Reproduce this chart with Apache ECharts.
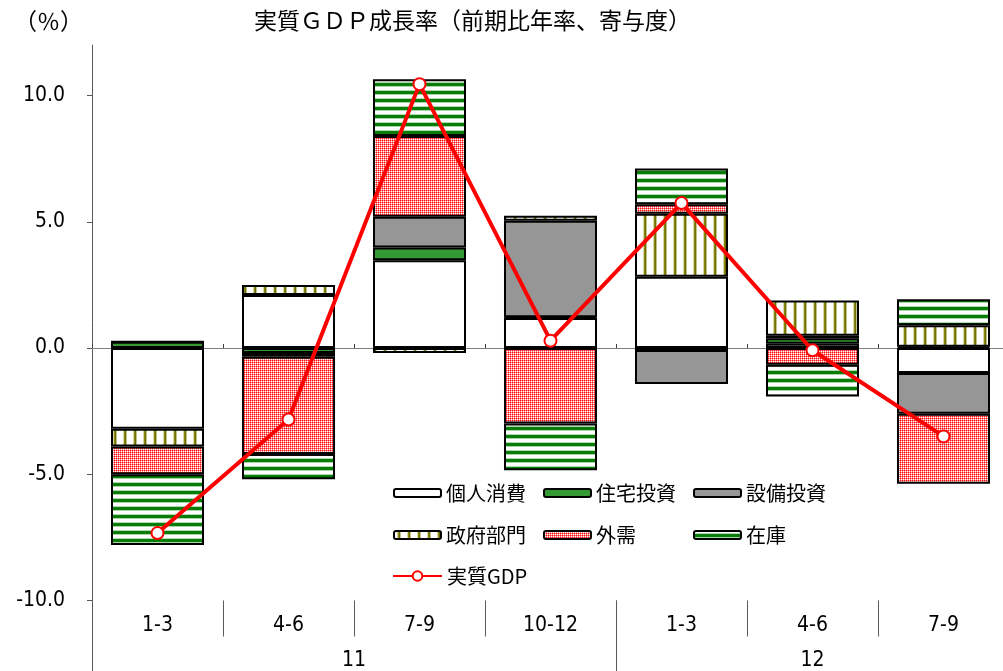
<!DOCTYPE html>
<html><head><meta charset="utf-8">
<script src="https://cdn.jsdelivr.net/npm/echarts@6/dist/echarts.min.js"></script>
<style>html,body{margin:0;padding:0;background:#fff}#c{width:1003px;height:671px}</style>
</head><body><div id="c"></div>
<script>
// ---- data ----
const quarters = ['1-3','4-6','7-9','10-12','1-3','4-6','7-9'];
const years = ['11','12'];
const quartersPerYear = [4,3];
const yTicks = [-10,-5,0,5,10];
const kojin   = [-3.20, 2.10, 3.48, 1.19, 2.82, 0.17, -0.99];
const jutaku  = [ 0.25,-0.20, 0.50, 0.03,-0.08, 0.22,  0.05];
const setsubi = [ 0.00,-0.15, 1.22, 3.82,-1.35, 0.10, -1.61];
const seifu   = [-0.70, 0.40,-0.20, 0.20, 2.50, 1.39,  0.85];
const gaiju   = [-1.10,-3.85, 3.20,-2.99, 0.37,-0.66, -2.78];
const zaiko   = [-2.80,-1.00, 2.24,-1.85, 1.42,-1.26,  1.03];
const gdp     = [-7.33,-2.83,10.45, 0.29, 5.74,-0.09, -3.50];
const names = ['個人消費','住宅投資','設備投資','政府部門','外需','在庫','実質GDP'];

// ---- patterns ----
function tile(w,h,fn){const c=document.createElement('canvas');c.width=w;c.height=h;const g=c.getContext('2d');
  for(let x=0;x<w;x++)for(let y=0;y<h;y++){g.fillStyle=fn(x,y);g.fillRect(x,y,1,1);}return c;}
const stripeCols=['#ffffff','#ffffff','#ffffff','#d6d6a6','#8a8a10','#6e6e00','#c4c48a','#ffffff','#ffffff','#ffffff'];
const seifuPat={image:tile(10,4,(x,y)=>stripeCols[x]),repeat:'repeat'};
const gaijuPat={image:tile(2,2,(x,y)=>(x===0&&y===0)?'#ff1010':(x===1&&y===1)?'#ffffff':'#ff8080'),repeat:'repeat'};
const zaikoRows=['#ffffff','#ffffff','#b0d8b0','#0a800a','#007a00','#0a800a','#a8d4a8','#ffffff'];
const zaikoPat={image:tile(4,8,(x,y)=>zaikoRows[y]),repeat:'repeat'};
const colors=['#ffffff','#339933','#969696',seifuPat,gaijuPat,zaikoPat];
const barData=[kojin,jutaku,setsubi,seifu,gaiju,zaiko];

// level-2 axis slots (half-quarter resolution)
const yearSlots=[];
(function(){let total=quarters.length*2+1;for(let i=0;i<total;i++)yearSlots.push('');
  let start=0;years.forEach((y,i)=>{yearSlots[start+quartersPerYear[i]]=y;start+=quartersPerYear[i]*2;});})();
const yearBounds=[0];quartersPerYear.reduce((a,n)=>{yearBounds.push((a+n)*2);return a+n;},0);

const cjk="'Noto Sans CJK JP', sans-serif";
const narrow="'Liberation Sans Narrow','DejaVu Sans Condensed', sans-serif";

const series=barData.map((d,i)=>({
  name:names[i],type:'bar',stack:'a',data:d,xAxisIndex:0,barWidth:'71%',
  itemStyle:{color:colors[i],borderColor:'#000',borderWidth:2},emphasis:{disabled:true}
}));
series.push({name:names[6],type:'line',data:gdp,xAxisIndex:0,z:10,symbol:'circle',symbolSize:12,
  lineStyle:{color:'#ff0000',width:4},itemStyle:{color:'#ffffff',borderColor:'#ff0000',borderWidth:2},
  emphasis:{disabled:true}});

const legendPos=[[393,483],[543,483],[693,483],[393,525],[543,525],[693,525],[392,566]];
const legends=names.map((n,i)=>({
  data:[n],left:legendPos[i][0],top:legendPos[i][1],padding:0,itemGap:0,
  itemWidth:i===6?49:47,itemHeight:i===6?12:8,
  textStyle:{fontSize:20,lineHeight:20,color:'#000',fontFamily:cjk},
  itemStyle:i===6?{}:{borderColor:'#000',borderWidth:2},
  selectedMode:false
}));

const chart=echarts.init(document.getElementById('c'),null,{renderer:'canvas'});
chart.setOption({
  animation:false,
  backgroundColor:'#fff',
  title:[
    {text:'実質ＧＤＰ成長率（前期比年率、寄与度）',left:254,top:9,padding:0,
     textStyle:{fontSize:23,fontWeight:'normal',color:'#000',fontFamily:cjk}},
    {text:'（％）',left:14,top:10,padding:0,textStyle:{fontSize:23,fontWeight:'normal',color:'#000',fontFamily:cjk}}
  ],
  legend:legends,
  grid:{left:92,right:-6,top:45,bottom:70.5,outerBoundsMode:'none',containLabel:false},
  xAxis:[
    {type:'category',data:quarters,position:'bottom',
     axisLine:{show:false,onZero:false},
     axisTick:{show:true,interval:0,length:36,lineStyle:{color:'#595959',width:1}},
     axisLabel:{interval:0,margin:15,fontSize:21,color:'#000',fontFamily:narrow}},
    {type:'category',data:quarters,position:'top',
     axisLine:{show:true,onZero:true,lineStyle:{color:'#808080',width:1}},
     axisTick:{show:true,interval:0,length:4,lineStyle:{color:'#404040'}},
     axisLabel:{show:false}},
    {type:'category',data:yearSlots,position:'bottom',boundaryGap:false,
     axisLine:{show:false,onZero:false},
     axisTick:{show:true,length:71,interval:(idx)=>yearBounds.indexOf(idx)>=0,lineStyle:{color:'#595959',width:1}},
     axisLabel:{interval:0,margin:50,fontSize:21,color:'#000',fontFamily:narrow}}
  ],
  yAxis:{type:'value',min:-10,max:12,
    axisLine:{show:true,lineStyle:{color:'#595959',width:1}},
    axisTick:{show:true,length:5,customValues:yTicks,lineStyle:{color:'#595959'}},
    axisLabel:{customValues:yTicks,formatter:v=>v.toFixed(1),margin:27,fontSize:21,color:'#000',fontFamily:narrow},
    splitLine:{show:false}},
  series:series
});
</script></body></html>
